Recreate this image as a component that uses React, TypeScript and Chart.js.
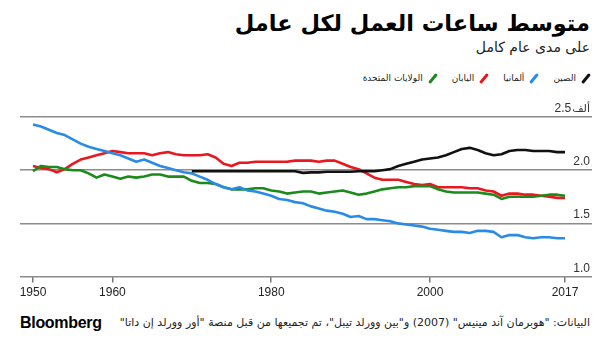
import React, { useEffect, useRef } from "react";
import { Chart, registerables } from "chart.js";
Chart.register(...registerables);

const years = [
  1950, 1951, 1952, 1953, 1954, 1955, 1956, 1957, 1958, 1959,
  1960, 1961, 1962, 1963, 1964, 1965, 1966, 1967, 1968, 1969,
  1970, 1971, 1972, 1973, 1974, 1975, 1976, 1977, 1978, 1979,
  1980, 1981, 1982, 1983, 1984, 1985, 1986, 1987, 1988, 1989,
  1990, 1991, 1992, 1993, 1994, 1995, 1996, 1997, 1998, 1999,
  2000, 2001, 2002, 2003, 2004, 2005, 2006, 2007, 2008, 2009,
  2010, 2011, 2012, 2013, 2014, 2015, 2016, 2017,
];

// thousands of hours per worker per year
const china = [
  null, null, null, null, null, null, null, null, null, null,
  null, null, null, null, null, null, null, null, null, null,
  1.99, 1.99, 1.99, 1.99, 1.99, 1.99, 1.99, 1.99, 1.99, 1.99,
  1.99, 1.99, 1.99, 1.99, 1.975, 1.98, 1.98, 1.985, 1.985, 1.985,
  1.985, 1.99, 1.99, 1.99, 2.0, 2.01, 2.04, 2.06, 2.08, 2.1,
  2.11, 2.12, 2.14, 2.17, 2.2, 2.21, 2.19, 2.16, 2.14, 2.15,
  2.18, 2.19, 2.19, 2.18, 2.18, 2.18, 2.17, 2.17,
];

const germany = [
  2.43, 2.41, 2.38, 2.35, 2.33, 2.29, 2.25, 2.22, 2.2, 2.18,
  2.16, 2.14, 2.11, 2.08, 2.1, 2.07, 2.04, 2.02, 2.0, 1.98,
  1.97, 1.94, 1.91, 1.87, 1.84, 1.82, 1.84, 1.81, 1.8, 1.78,
  1.76, 1.73, 1.72, 1.7, 1.69, 1.66, 1.64, 1.62, 1.61, 1.59,
  1.56, 1.57, 1.54, 1.54, 1.53, 1.52, 1.5, 1.49, 1.48, 1.47,
  1.45, 1.44, 1.43, 1.42, 1.42, 1.41, 1.43, 1.43, 1.42, 1.37,
  1.39, 1.39, 1.37, 1.36, 1.37, 1.37, 1.36, 1.36,
];

const japan = [
  2.04, 2.02, 2.01, 1.98, 2.01, 2.06, 2.1, 2.12, 2.14, 2.16,
  2.18, 2.17, 2.16, 2.16, 2.16, 2.14, 2.16, 2.17, 2.15, 2.14,
  2.14, 2.14, 2.15, 2.12, 2.06, 2.04, 2.07, 2.07, 2.08, 2.08,
  2.08, 2.08, 2.08, 2.09, 2.09, 2.09, 2.08, 2.09, 2.09, 2.06,
  2.03, 2.01, 1.97, 1.93, 1.91, 1.91, 1.91, 1.89, 1.87, 1.86,
  1.87, 1.84, 1.84, 1.84, 1.84, 1.83, 1.83, 1.81, 1.8, 1.76,
  1.78, 1.78, 1.77, 1.77, 1.76, 1.75, 1.74, 1.74,
];

const usa = [
  1.99, 2.04, 2.03, 2.03, 2.01, 2.0, 2.0, 1.97, 1.93, 1.96,
  1.94, 1.92, 1.94, 1.93, 1.94, 1.96, 1.96, 1.94, 1.94, 1.94,
  1.9, 1.88, 1.88, 1.87, 1.84, 1.82, 1.82, 1.82, 1.83, 1.83,
  1.81, 1.8, 1.78, 1.79, 1.8, 1.8, 1.78, 1.79, 1.8, 1.81,
  1.79, 1.77, 1.78, 1.8, 1.82, 1.83, 1.84, 1.84, 1.85, 1.85,
  1.85, 1.82, 1.8, 1.79, 1.79, 1.79, 1.79, 1.78, 1.77, 1.73,
  1.75, 1.75, 1.75, 1.75, 1.76, 1.77, 1.77, 1.76,
];

const seriesNames = ["الصين", "ألمانيا", "اليابان", "الولايات المتحدة"];
const seriesColors = ["#111111", "#2a8be6", "#e8181e", "#1c8a1c"];
const xTickValues = [1950, 1960, 1980, 2000, 2017];
const yTickLabels = ["1.0", "1.5", "2.0", "2.5"];
const yUnit = "ألف";

const title = "متوسط ساعات العمل لكل عامل";
const subtitle = "على مدى عام كامل";
const source =
  'البيانات: "هوبرمان آند مينيس" (2007) و"بين وورلد تيبل"، تم تجميعها من قبل منصة "أور وورلد إن داتا"';

const AR_FONT = '"DejaVu Sans", "Noto Sans", sans-serif';
const NUM_FONT = '"Liberation Sans", "DejaVu Sans", sans-serif';

const yLabelPlugin = {
  id: "yLabels",
  afterDraw(chart: any) {
    const { ctx, chartArea } = chart;
    const y = chart.scales.y;
    ctx.save();
    ctx.fillStyle = "#333";
    ctx.textAlign = "right";
    ctx.textBaseline = "alphabetic";
    const last = y.ticks.length - 1;
    y.ticks.forEach((t: any, i: number) => {
      const py = y.getPixelForValue(t.value) - 5;
      let xr = chartArea.right - 2;
      if (i === last) {
        ctx.font = '11px "DejaVu Sans", sans-serif';
        ctx.fillText(yUnit, xr, py);
        xr -= ctx.measureText(yUnit).width + 1;
      }
      ctx.font = '12px "Liberation Sans", sans-serif';
      ctx.fillText(yTickLabels[i] ?? String(t.value), xr, py);
    });
    ctx.restore();
  },
};

function toPoints(vals: (number | null)[]) {
  return years.map((yr, i) => ({ x: yr, y: vals[i] }));
}

export default function App() {
  const ref = useRef<HTMLCanvasElement>(null);

  useEffect(() => {
    const all = [china, germany, usa, japan];
    const idx = [0, 1, 3, 2];
    const chart = new Chart(ref.current as HTMLCanvasElement, {
      type: "line",
      data: {
        datasets: all.map((vals, k) => ({
          label: seriesNames[idx[k]],
          data: toPoints(vals) as any,
          borderColor: seriesColors[idx[k]],
          backgroundColor: seriesColors[idx[k]],
          borderWidth: 2.6,
          pointRadius: 0,
          tension: 0,
          spanGaps: false,
          borderJoinStyle: "round" as const,
        })),
      },
      options: {
        animation: false,
        responsive: false,
        maintainAspectRatio: false,
        layout: { padding: { left: 20, right: 18, top: 22, bottom: 2 } },
        plugins: {
          legend: { display: false },
          tooltip: { enabled: false },
        },
        scales: {
          x: {
            type: "linear",
            min: 1948.36,
            max: 2020.4,
            afterBuildTicks: (scale: any) => {
              scale.ticks = xTickValues.map((v) => ({ value: v }));
            },
            ticks: {
              autoSkip: false,
              maxRotation: 0,
              padding: 3,
              color: "#222",
              font: { family: NUM_FONT, size: 12 },
              callback: (v: any) => String(v),
            },
            grid: {
              drawOnChartArea: false,
              drawTicks: true,
              tickLength: 6,
              color: "#777",
              lineWidth: 1.5,
            },
            border: { display: false },
          },
          y: {
            min: 1.0,
            max: 2.5,
            ticks: { display: false, stepSize: 0.5 },
            grid: { color: "#8c8c8c", lineWidth: 1.5, drawTicks: false },
            border: { display: false },
          },
        },
      },
      plugins: [yLabelPlugin],
    });
    return () => chart.destroy();
  }, []);

  const legendItems = seriesNames.map((n, i) => (
    <div key={n} style={{ display: "flex", alignItems: "center", marginLeft: 13 }}>
      <span
        style={{
          display: "inline-block",
          width: 12,
          height: 3,
          borderRadius: 2,
          background: seriesColors[i],
          transform: "rotate(-50deg)",
          marginLeft: 4,
        }}
      />
      <span style={{ fontSize: 9, color: "#222", fontFamily: AR_FONT }}>{n}</span>
    </div>
  ));

  return (
    <div
      style={{
        position: "fixed",
        left: 0,
        top: 0,
        width: 610,
        height: 354,
        background: "#fff",
        overflow: "hidden",
      }}
    >
      <div
        dir="rtl"
        style={{
          position: "absolute",
          right: 20,
          top: 10,
          fontFamily: AR_FONT,
          fontWeight: 700,
          fontSize: 22.5,
          color: "#000",
          whiteSpace: "nowrap",
        }}
      >
        {title}
      </div>
      <div
        dir="rtl"
        style={{
          position: "absolute",
          right: 20,
          top: 39,
          fontFamily: AR_FONT,
          fontSize: 14,
          color: "#222",
          whiteSpace: "nowrap",
        }}
      >
        {subtitle}
      </div>
      <div
        dir="rtl"
        style={{
          position: "absolute",
          right: 18,
          top: 73,
          display: "flex",
          flexDirection: "row",
          whiteSpace: "nowrap",
        }}
      >
        {legendItems}
      </div>
      <canvas
        ref={ref}
        width={610}
        height={210}
        style={{ position: "absolute", left: 0, top: 95, width: 610, height: 210 }}
      />
      <div
        style={{
          position: "absolute",
          left: 20,
          top: 314,
          fontFamily: NUM_FONT,
          fontWeight: 700,
          fontSize: 16,
          color: "#000",
          letterSpacing: -0.3,
        }}
      >
        Bloomberg
      </div>
      <div
        dir="rtl"
        style={{
          position: "absolute",
          right: 20,
          top: 316,
          fontFamily: AR_FONT,
          fontSize: 11,
          color: "#222",
          whiteSpace: "nowrap",
        }}
      >
        {source}
      </div>
    </div>
  );
}
